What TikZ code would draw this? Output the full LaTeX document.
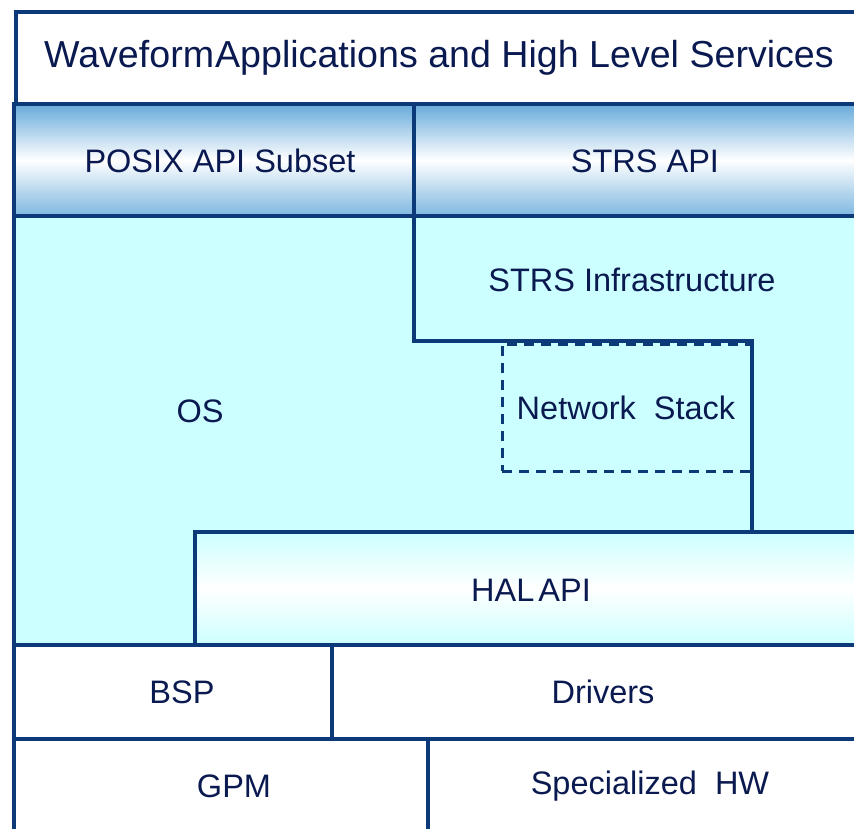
\documentclass[tikz,border=0pt]{standalone}
\usepackage{fontspec}
\setmainfont{Liberation Sans}
\definecolor{navy}{HTML}{0A1A50}
\definecolor{edge}{HTML}{0C3A78}
\definecolor{oscyan}{HTML}{CCFFFF}
\definecolor{apiblue}{HTML}{66AADA}
\begin{document}
\begin{tikzpicture}[x=1pt,y=-1pt,
  box/.style={draw=edge, line width=3.2pt, anchor=north west, inner sep=0pt, outer sep=0pt},
  lbl/.style={text=navy, font=\fontsize{32.5}{38}\selectfont, inner sep=0pt},
  bigl/.style={text=navy, font=\fontsize{37.6}{44}\selectfont, inner sep=0pt},
  apishade/.style={top color=apiblue, bottom color=apiblue!85, middle color=white},
  halshade/.style={top color=oscyan, bottom color=oscyan, middle color=white},
  edgeline/.style={draw=edge, line width=3.2pt},
]
\useasboundingbox (0,0) rectangle (854,828);
\fill[white] (0,0) rectangle (854,828);
\clip (0,0) rectangle (854,828);

% top layer
\node[box, fill=white, minimum width=870pt, minimum height=92pt] (wave) at (16,12) {};
\node[bigl] (t-wave) at (439,58) {Waveform\kern-0.25em\ Applications and High Level Services};

% API row
\node[box, apishade, minimum width=400pt, minimum height=112pt] (posix) at (14,104) {};
\node[box, apishade, minimum width=480pt, minimum height=112pt] (strsapi) at (414,104) {};
\node[lbl] (t-posix) at (220,161) {POSIX API Subset};
\node[lbl] (t-strsapi) at (645,161) {STRS API};

% OS region
\node[box, fill=oscyan, minimum width=880pt, minimum height=429pt] (os) at (14,216) {};
\node[lbl] (t-os) at (200,411) {OS};

% STRS infrastructure (open on the right)
\node[anchor=north west, inner sep=0pt, outer sep=0pt, minimum width=338pt, minimum height=125pt] (infra) at (414,216) {};
\node[lbl] (t-infra) at (632,280) {STRS Infrastructure};

% Network stack
\node[draw=edge, line width=3pt, dash pattern=on 10pt off 7pt, anchor=north west,
      inner sep=0pt, outer sep=0pt, minimum width=250pt, minimum height=127pt] (net) at (502,344) {};
\node[lbl] (t-net) at (626,408) {Network\ \ Stack};

% HAL API
\node[box, halshade, minimum width=700pt, minimum height=113pt] (hal) at (195,532) {};
\node[lbl] (t-hal) at (531,590) {HAL\kern-0.15em\ API};

% infrastructure outline running down to HAL
\coordinate (halhit) at (infra.south east |- hal.north);
\draw[edgeline] (infra.north west) -- (infra.south west) -- (infra.south east) -- (halhit);

% BSP / Drivers
\node[box, fill=white, minimum width=318pt, minimum height=94pt] (bsp) at (14,645) {};
\node[box, fill=white, minimum width=560pt, minimum height=94pt] (drv) at (332,645) {};
\node[lbl] (t-bsp) at (182,692) {BSP};
\node[lbl] (t-drv) at (603,692) {Drivers};

% GPM / Specialized HW
\node[box, fill=white, minimum width=414pt, minimum height=120pt] (gpm) at (14,739) {};
\node[box, fill=white, minimum width=480pt, minimum height=120pt] (shw) at (428,739) {};
\node[lbl] (t-gpm) at (234,786) {GPM};
\node[lbl] (t-shw) at (650,786) {Specialized\ \ HW};
\end{tikzpicture}
\end{document}
